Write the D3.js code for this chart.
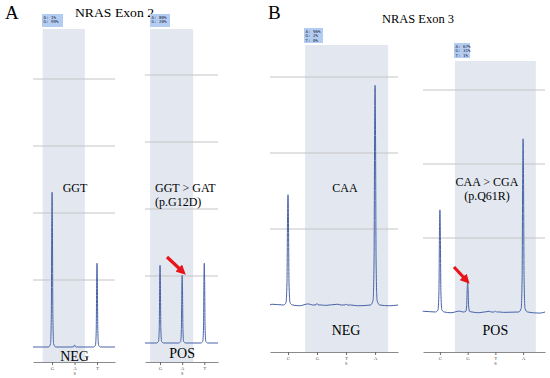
<!DOCTYPE html>
<html>
<head>
<meta charset="utf-8">
<script src="https://cdn.jsdelivr.net/npm/d3@7"></script>
<style>
  body { margin: 0; background: #fff; }
  svg { display: block; }
  text { font-family: "Liberation Serif", "DejaVu Serif", serif; }
  .mono { font-family: "DejaVu Sans Mono", monospace; }
</style>
</head>
<body>
<div id="chart"></div>
<script>
// ---- data ----
const exon2Bases = ['G', 'A', 'T'];
const exon3Bases = ['C', 'G', 'T', 'A'];

// peak heights per base, in gridline units
const exon2NegPeaks = [2.31, 0.03, 1.25];
const exon2PosPeaks = [1.16, 1.01, 1.19];
const exon3NegPeaks = [1.45, 0.02, 0.01, 2.89];
const exon3PosPeaks = [1.38, 0.41, 0.01, 2.34];

// allele percentages shown in the small boxes
const exon2NegPct = ['A: 1%', 'G: 99%'];
const exon2PosPct = ['A: 80%', 'G: 20%'];
const exon3NegPct = ['A: 96%', 'G: 2%', 'T: 0%'];
const exon3PosPct = ['A: 67%', 'G: 31%', 'T: 1%'];

// small baseline wobble (base position, value)
const exon3NegNoise = [[-0.55, 0.01], [0.4, -0.01], [0.7, 0.015], [1.3, -0.005], [1.7, 0.01], [2.4, -0.01], [3.5, -0.01]];
const exon3PosNoise = [[-0.6, 0.01], [0.4, -0.01], [0.7, 0.012], [1.4, -0.01], [1.8, 0.01], [2.3, -0.005], [3.6, -0.015]];

// shape of one peak: offset in bases, fraction of height
const peakProfile = [[-0.16, 0], [-0.07, 0.02], [-0.035, 0.2], [-0.015, 0.8], [0, 1], [0.015, 0.8], [0.035, 0.2], [0.07, 0.02], [0.16, 0]];

const panels = [
  { bases: exon2Bases, peaks: exon2NegPeaks, pct: exon2NegPct, noise: [],
    x: [33, 115], xDomain: [-0.85, 2.8], yRange: [347, 79], grids: 4,
    shade: [-0.42, 1.46], shadeTop: 29, axisY: 362, box: [42, 14, 21, 13],
    mutation: ['GGT'], mutPos: [75, 192], mutAnchor: 'middle',
    label: 'NEG', labelY: 361, arrow: null },
  { bases: exon2Bases, peaks: exon2PosPeaks, pct: exon2PosPct, noise: [],
    x: [145, 218], xDomain: [-0.68, 2.62], yRange: [343, 75], grids: 4,
    shade: [-0.45, 1.5], shadeTop: 29, axisY: 362, box: [150, 14, 20, 13],
    mutation: ['GGT > GAT', '(p.G12D)'], mutPos: [155, 192], mutAnchor: 'start',
    label: 'POS', labelY: 358, arrow: [[167, 257], [183, 272]] },
  { bases: exon3Bases, peaks: exon3NegPeaks, pct: exon3NegPct, noise: exon3NegNoise,
    x: [270, 398], xDomain: [-0.62, 3.79], yRange: [305, 77], grids: 3,
    shade: [0.59, 3.45], shadeTop: 45, axisY: 352, box: [304, 28, 19, 15],
    mutation: ['CAA'], mutPos: [345, 192], mutAnchor: 'middle',
    label: 'NEG', labelY: 335, arrow: null },
  { bases: exon3Bases, peaks: exon3PosPeaks, pct: exon3PosPct, noise: exon3PosNoise,
    x: [423, 545], xDomain: [-0.61, 3.79], yRange: [312, 90], grids: 3,
    shade: [0.54, 3.46], shadeTop: 61, axisY: 352, box: [454, 43, 16, 15],
    mutation: ['CAA > CGA', '(p.Q61R)'], mutPos: [487, 186], mutAnchor: 'middle',
    label: 'POS', labelY: 335, arrow: [[454, 267], [467, 281]] }
];

const width = 550, height = 378;
const svg = d3.select('#chart').append('svg').attr('width', width).attr('height', height);

svg.append('defs').append('marker')
  .attr('id', 'head').attr('viewBox', '0 0 10 10')
  .attr('refX', 6).attr('refY', 5)
  .attr('markerWidth', 3).attr('markerHeight', 3)
  .attr('orient', 'auto')
  .append('path').attr('d', 'M0,0 L10,5 L0,10 z').attr('fill', '#e8141a');

// panel letters and titles
svg.append('text').attr('x', 5).attr('y', 19).attr('font-size', 19).text('A');
svg.append('text').attr('x', 268).attr('y', 19).attr('font-size', 19).text('B');
svg.append('text').attr('x', 75).attr('y', 17).attr('font-size', 13.5)
  .attr('textLength', 79).attr('lengthAdjust', 'spacingAndGlyphs').text('NRAS Exon 2');
svg.append('text').attr('x', 382).attr('y', 23).attr('font-size', 13)
  .attr('textLength', 72).attr('lengthAdjust', 'spacingAndGlyphs').text('NRAS Exon 3');

panels.forEach(p => {
  const g = svg.append('g');
  const x = d3.scaleLinear().domain(p.xDomain).range(p.x);
  const y = d3.scaleLinear().domain([0, p.grids]).range(p.yRange);

  // shaded read window
  g.append('rect')
    .attr('x', x(p.shade[0])).attr('y', p.shadeTop)
    .attr('width', x(p.shade[1]) - x(p.shade[0]))
    .attr('height', p.axisY - p.shadeTop)
    .attr('fill', '#e3e8f0');

  // percentage box
  const [bx, by, bw, bh] = p.box;
  g.append('rect').attr('x', bx).attr('y', by).attr('width', bw).attr('height', bh)
    .attr('fill', '#b3ccf2');
  g.selectAll('.pct').data(p.pct).join('text')
    .attr('class', 'mono')
    .attr('x', bx + 1.5).attr('y', (d, i) => by + 4.5 + i * 4.5)
    .attr('font-size', 4.2).attr('fill', '#223')
    .text(d => d);

  // gridlines
  g.selectAll('.grid').data(d3.range(1, p.grids + 1)).join('line')
    .attr('x1', p.x[0]).attr('x2', p.x[1])
    .attr('y1', d => y(d)).attr('y2', d => y(d))
    .attr('stroke', '#c4c4c4').attr('stroke-width', 1);

  // trace
  const pts = [[p.xDomain[0], 0], [p.xDomain[1], 0]].concat(p.noise);
  p.peaks.forEach((h, i) => {
    peakProfile.forEach(([dx, f]) => pts.push([i + dx, h * f]));
  });
  pts.sort((a, b) => a[0] - b[0]);
  const line = d3.line().x(d => x(d[0])).y(d => y(d[1])).curve(d3.curveMonotoneX);
  g.append('path').datum(pts)
    .attr('d', line).attr('fill', 'none')
    .attr('stroke', '#4862a8').attr('stroke-width', 1);

  // base axis
  const axis = d3.axisBottom(x)
    .tickValues(d3.range(p.bases.length))
    .tickFormat(i => p.bases[i])
    .tickSize(3).tickSizeOuter(0).tickPadding(1);
  const ax = g.append('g').attr('transform', `translate(0,${p.axisY})`).call(axis);
  ax.select('.domain').attr('stroke', '#8a8a8a');
  ax.selectAll('.tick line').attr('stroke', '#6a6a6a');
  ax.selectAll('.tick text').attr('font-size', 5).attr('fill', '#555')
    .attr('font-family', 'DejaVu Sans, sans-serif');
  const mid = (p.bases.length - 1) / 2;
  g.append('text').attr('x', x(Math.round(mid))).attr('y', p.axisY + 13)
    .attr('text-anchor', 'middle').attr('font-size', 5).attr('fill', '#555')
    .attr('font-family', 'DejaVu Sans, sans-serif').text('S');

  // mutation text
  g.selectAll('.mut').data(p.mutation).join('text')
    .attr('x', p.mutPos[0]).attr('y', (d, i) => p.mutPos[1] + i * 14)
    .attr('text-anchor', p.mutAnchor).attr('font-size', 12)
    .text(d => d);

  // NEG / POS label
  g.append('text').attr('x', x(Math.round(mid))).attr('y', p.labelY)
    .attr('text-anchor', 'middle').attr('font-size', 14)
    .text(p.label);

  // red arrow
  if (p.arrow) {
    g.append('line')
      .attr('x1', p.arrow[0][0]).attr('y1', p.arrow[0][1])
      .attr('x2', p.arrow[1][0]).attr('y2', p.arrow[1][1])
      .attr('stroke', '#e8141a').attr('stroke-width', 3.2)
      .attr('marker-end', 'url(#head)');
  }
});
</script>
</body>
</html>
